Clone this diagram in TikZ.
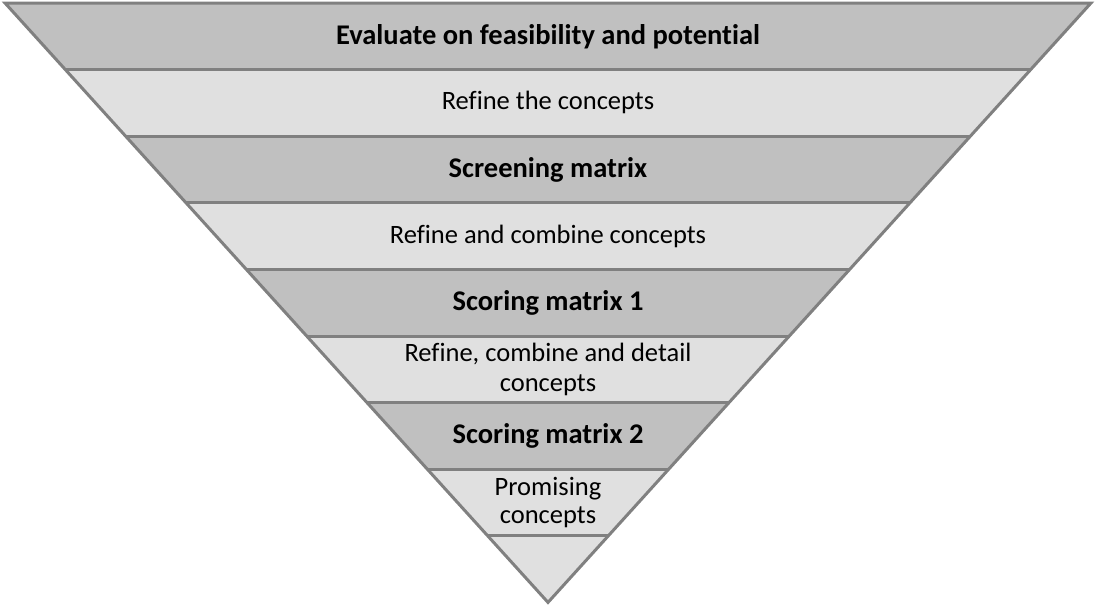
\documentclass[tikz,border=0pt]{standalone}
\usepackage{fontspec}
\setmainfont{Carlito}[Ligatures=NoCommon]
\definecolor{bandDark}{HTML}{C0C0C0}
\definecolor{bandLight}{HTML}{E0E0E0}
\definecolor{edgeGray}{HTML}{808080}
\begin{document}
\begin{tikzpicture}[x=1pt,y=-1pt,
  edge/.style={draw=edgeGray,line width=3pt},
  plainlabel/.style={align=center,inner sep=0pt,font=\fontsize{26.5}{30}\selectfont},
  boldlabel/.style={align=center,inner sep=0pt,font=\fontsize{28.5}{32}\selectfont\bfseries}]
\useasboundingbox (0,0) rectangle (1096,605);
% funnel: nine bands of equal height, left edge x = 5 + 0.906 (y - 3)
\foreach \i/\col in {0/bandDark,1/bandLight,2/bandDark,3/bandLight,4/bandDark,5/bandLight,6/bandDark,7/bandLight} {
  \pgfmathsetmacro\ya{3+66.6*\i}
  \pgfmathsetmacro\yb{3+66.6*(\i+1)}
  \pgfmathsetmacro\xa{5+0.906*(\ya-3)}
  \pgfmathsetmacro\xb{5+0.906*(\yb-3)}
  \fill[\col] (\xa,\ya) -- (1096-\xa,\ya) -- (1096-\xb,\yb) -- (\xb,\yb) -- cycle;
}
\coordinate (tl) at (5,3);
\coordinate (tr) at (1091,3);
\coordinate (apex) at (548,602.4);
\pgfmathsetmacro\ylast{3+66.6*8}
\pgfmathsetmacro\xlast{5+0.906*(\ylast-3)}
\fill[bandLight] (\xlast,\ylast) -- (1096-\xlast,\ylast) -- (apex) -- cycle;
% dividing lines
\foreach \i in {1,...,8} {
  \pgfmathsetmacro\ya{3+66.6*\i}
  \pgfmathsetmacro\xa{5+0.906*(\ya-3)}
  \draw[edge] (\xa,\ya) -- (1096-\xa,\ya);
}
\draw[edge,line join=miter] (tl) -- (tr) -- (apex) -- cycle;
% labels
\node[boldlabel]  (l0) at (548,36.3)  {Evaluate on feasibility and potential};
\node[plainlabel] (l1) at (548,102.9) {Refine the concepts};
\node[boldlabel]  (l2) at (548,169.5) {Screening matrix};
\node[plainlabel] (l3) at (548,236.1) {Refine and combine concepts};
\node[boldlabel]  (l4) at (548,302.7) {Scoring matrix 1};
\node[plainlabel] (l5) at (548,369.3) {Refine, combine and detail\\concepts};
\node[boldlabel]  (l6) at (548,435.9) {Scoring matrix 2};
\node[plainlabel,font=\fontsize{26.5}{28}\selectfont] (l7) at (548,502.5) {Promising\\concepts};
\end{tikzpicture}
\end{document}
